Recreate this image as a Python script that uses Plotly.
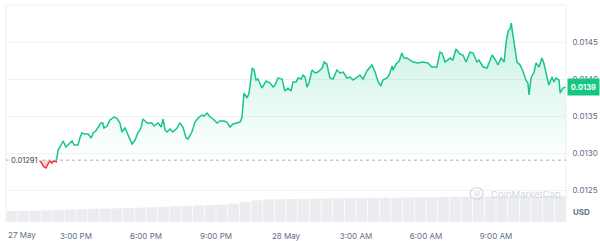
import numpy as np
import pandas as pd
import plotly.graph_objects as go

# ---------------- data ----------------
times = [
    "2024-05-27 13:22", "2024-05-27 13:30", "2024-05-27 13:38", "2024-05-27 13:43", "2024-05-27 13:48",
    "2024-05-27 13:53", "2024-05-27 13:58", "2024-05-27 14:03", "2024-05-27 14:09", "2024-05-27 14:14",
    "2024-05-27 14:19", "2024-05-27 14:27", "2024-05-27 14:34", "2024-05-27 14:39", "2024-05-27 14:50",
    "2024-05-27 14:55", "2024-05-27 15:05", "2024-05-27 15:10", "2024-05-27 15:15", "2024-05-27 15:23",
    "2024-05-27 15:31", "2024-05-27 15:39", "2024-05-27 15:44", "2024-05-27 15:51", "2024-05-27 15:59",
    "2024-05-27 16:04", "2024-05-27 16:09", "2024-05-27 16:12", "2024-05-27 16:20", "2024-05-27 16:27",
    "2024-05-27 16:38", "2024-05-27 16:45", "2024-05-27 16:53", "2024-05-27 16:58", "2024-05-27 17:06",
    "2024-05-27 17:14", "2024-05-27 17:24", "2024-05-27 17:32", "2024-05-27 17:39", "2024-05-27 17:47",
    "2024-05-27 17:52", "2024-05-27 18:03", "2024-05-27 18:15", "2024-05-27 18:21", "2024-05-27 18:31",
    "2024-05-27 18:39", "2024-05-27 18:44", "2024-05-27 18:49", "2024-05-27 18:54", "2024-05-27 19:02",
    "2024-05-27 19:09", "2024-05-27 19:20", "2024-05-27 19:27", "2024-05-27 19:35", "2024-05-27 19:43",
    "2024-05-27 19:48", "2024-05-27 19:58", "2024-05-27 20:06", "2024-05-27 20:14", "2024-05-27 20:24",
    "2024-05-27 20:29", "2024-05-27 20:37", "2024-05-27 20:45", "2024-05-27 20:52", "2024-05-27 21:03",
    "2024-05-27 21:10", "2024-05-27 21:21", "2024-05-27 21:28", "2024-05-27 21:36", "2024-05-27 21:44",
    "2024-05-27 21:54", "2024-05-27 22:02", "2024-05-27 22:07", "2024-05-27 22:12", "2024-05-27 22:20",
    "2024-05-27 22:25", "2024-05-27 22:33", "2024-05-27 22:38", "2024-05-27 22:43", "2024-05-27 22:48",
    "2024-05-27 22:58", "2024-05-27 23:09", "2024-05-27 23:19", "2024-05-27 23:27", "2024-05-27 23:32",
    "2024-05-27 23:39", "2024-05-27 23:50", "2024-05-27 23:57",
    "2024-05-28 00:05", "2024-05-28 00:13", "2024-05-28 00:18", "2024-05-28 00:26", "2024-05-28 00:31",
    "2024-05-28 00:39", "2024-05-28 00:44", "2024-05-28 00:49", "2024-05-28 00:54", "2024-05-28 00:59",
    "2024-05-28 01:07", "2024-05-28 01:15", "2024-05-28 01:22", "2024-05-28 01:33", "2024-05-28 01:38",
    "2024-05-28 01:45", "2024-05-28 01:53", "2024-05-28 02:01", "2024-05-28 02:11", "2024-05-28 02:19",
    "2024-05-28 02:27", "2024-05-28 02:37", "2024-05-28 02:45", "2024-05-28 02:52", "2024-05-28 03:03",
    "2024-05-28 03:10", "2024-05-28 03:18", "2024-05-28 03:28", "2024-05-28 03:41", "2024-05-28 03:49",
    "2024-05-28 03:57", "2024-05-28 04:04", "2024-05-28 04:09", "2024-05-28 04:20", "2024-05-28 04:25",
    "2024-05-28 04:33", "2024-05-28 04:35", "2024-05-28 04:43", "2024-05-28 04:51", "2024-05-28 04:58",
    "2024-05-28 05:03", "2024-05-28 05:11", "2024-05-28 05:19", "2024-05-28 05:27", "2024-05-28 05:39",
    "2024-05-28 05:52", "2024-05-28 06:05", "2024-05-28 06:15", "2024-05-28 06:28", "2024-05-28 06:36",
    "2024-05-28 06:41", "2024-05-28 06:49", "2024-05-28 07:02", "2024-05-28 07:09", "2024-05-28 07:17",
    "2024-05-28 07:27", "2024-05-28 07:35", "2024-05-28 07:43", "2024-05-28 07:53", "2024-05-28 08:01",
    "2024-05-28 08:11", "2024-05-28 08:16", "2024-05-28 08:27", "2024-05-28 08:37", "2024-05-28 08:50",
    "2024-05-28 08:57", "2024-05-28 09:05", "2024-05-28 09:13", "2024-05-28 09:21", "2024-05-28 09:26",
    "2024-05-28 09:31", "2024-05-28 09:36", "2024-05-28 09:39", "2024-05-28 09:44", "2024-05-28 09:49",
    "2024-05-28 09:54", "2024-05-28 10:02", "2024-05-28 10:09", "2024-05-28 10:17", "2024-05-28 10:22",
    "2024-05-28 10:25", "2024-05-28 10:30", "2024-05-28 10:38", "2024-05-28 10:43", "2024-05-28 10:51",
    "2024-05-28 10:58", "2024-05-28 11:03", "2024-05-28 11:11", "2024-05-28 11:16", "2024-05-28 11:24",
    "2024-05-28 11:29", "2024-05-28 11:34", "2024-05-28 11:42", "2024-05-28 11:45", "2024-05-28 11:52",
    "2024-05-28 12:00",
]
prices = [
    0.012910, 0.012885, 0.012817, 0.012804, 0.012858,
    0.012900, 0.012871, 0.012900, 0.012885, 0.013047,
    0.013088, 0.013169, 0.013088, 0.013115, 0.013169,
    0.013115, 0.013115, 0.013209, 0.013277, 0.013263,
    0.013263, 0.013209, 0.013277, 0.013304, 0.013371,
    0.013412, 0.013412, 0.013344, 0.013371, 0.013452,
    0.013493, 0.013479, 0.013412, 0.013290, 0.013344,
    0.013250, 0.013128, 0.013182, 0.013277, 0.013344,
    0.013466, 0.013412, 0.013412, 0.013371, 0.013412,
    0.013358, 0.013466, 0.013317, 0.013290, 0.013331,
    0.013290, 0.013344, 0.013412, 0.013358, 0.013209,
    0.013196, 0.013290, 0.013425, 0.013479, 0.013520,
    0.013506, 0.013547, 0.013493, 0.013466, 0.013412,
    0.013439, 0.013439, 0.013425, 0.013358, 0.013398,
    0.013412, 0.013425, 0.013493, 0.013817, 0.013750,
    0.013817, 0.014155, 0.014128, 0.013993, 0.014006,
    0.013885, 0.013979, 0.013952, 0.013898, 0.013925,
    0.014020, 0.014006, 0.013844,
    0.013885, 0.013844, 0.013966, 0.013966, 0.014020,
    0.014006, 0.014060, 0.014033, 0.013898, 0.013952,
    0.014128, 0.014088, 0.014101, 0.014155, 0.014236,
    0.014209, 0.014020, 0.014006, 0.014128, 0.014088,
    0.014101, 0.014020, 0.014033, 0.013993, 0.014033,
    0.014060, 0.014006, 0.014115, 0.014196, 0.014101,
    0.013966, 0.013912, 0.013993, 0.014020, 0.014060,
    0.014182, 0.014128, 0.014209, 0.014250, 0.014358,
    0.014290, 0.014290, 0.014263, 0.014236, 0.014223,
    0.014236, 0.014223, 0.014169, 0.014169, 0.014371,
    0.014358, 0.014236, 0.014290, 0.014263, 0.014412,
    0.014344, 0.014331, 0.014236, 0.014371, 0.014358,
    0.014236, 0.014263, 0.014169, 0.014155, 0.014331,
    0.014277, 0.014196, 0.014290, 0.014236, 0.014506,
    0.014655, 0.014682, 0.014763, 0.014601, 0.014425,
    0.014236, 0.014196, 0.014115, 0.013993, 0.013952,
    0.013790, 0.014020, 0.014101, 0.014223, 0.014169,
    0.014290, 0.014223, 0.014060, 0.013925, 0.014033,
    0.013966, 0.014020, 0.013993, 0.013817, 0.013885,
    0.013898,
]
base_price = 0.01291
base_label = "0.01291"
last_label = "0.0139"

# 24h rolling volume (millions USD), half-hour buckets starting 27 May 12:00
volume = [
    0.51, 0.51, 0.52, 0.53, 0.55, 0.57, 0.59, 0.61, 0.62, 0.63, 0.64, 0.66,
    0.68, 0.70, 0.72, 0.74, 0.76, 0.78, 0.80, 0.84, 0.92, 1.00, 1.04, 1.05,
    1.06, 1.07, 1.07, 1.08, 1.09, 1.10, 1.10, 1.11, 1.12, 1.12, 1.13, 1.14,
    1.14, 1.15, 1.16, 1.16, 1.17, 1.17, 1.18, 1.18, 1.19, 1.19, 1.20, 1.20,
]

x_ticks = ["2024-05-27 15:00", "2024-05-27 18:00", "2024-05-27 21:00", "2024-05-28 00:00",
           "2024-05-28 03:00", "2024-05-28 06:00", "2024-05-28 09:00"]
x_ticktext = ["3:00 PM", "6:00 PM", "9:00 PM", "28 May", "3:00 AM", "6:00 AM", "9:00 AM"]
first_label = "27 May"
y_ticks = [0.0125, 0.0130, 0.0135, 0.0140, 0.0145]
y_ticktext = ["0.0125", "0.0130", "0.0135", "0.0140", "0.0145"]

x_start, x_end = "2024-05-27 12:00", "2024-05-28 12:00"
y_range = [0.012074, 0.015007]

GREEN = "#16c784"
RED = "#ea3943"
GRID = "#f1f2f4"
TXT = "#616e85"
WM = "#d3d8de"
FONT = "Inter"

# ------------- split into above / below base --------------
t = pd.to_datetime(times)
p = np.array(prices, dtype=float)
tt, pp = [t[0]], [p[0]]
for i in range(1, len(p)):
    a, b = p[i - 1] - base_price, p[i] - base_price
    if a * b < 0:
        f = a / (a - b)
        tc = t[i - 1] + (t[i] - t[i - 1]) * f
        tt.append(tc)
        pp.append(base_price)
    tt.append(t[i])
    pp.append(p[i])
pp = np.array(pp)
green_line = [v if v >= base_price - 1e-12 else None for v in pp]
red_line = [v if v <= base_price + 1e-12 else None for v in pp]
green_fill = np.maximum(pp, base_price)
red_fill = np.minimum(pp, base_price)
baseline = [base_price] * len(tt)

vol_t = pd.date_range(x_start, periods=len(volume), freq="30min") + pd.Timedelta(minutes=15)

fig = go.Figure()

fig.add_trace(go.Bar(x=vol_t, y=volume, yaxis="y2", marker=dict(color="#eaecef", line=dict(width=0)),
                     hoverinfo="skip", showlegend=False))

fig.add_trace(go.Scatter(x=tt, y=baseline, mode="lines", line=dict(width=0), hoverinfo="skip",
                         showlegend=False))
fig.add_trace(go.Scatter(x=tt, y=green_fill, mode="lines", line=dict(width=0), fill="tonexty",
                         fillgradient=dict(type="vertical",
                                           colorscale=[[0, "rgba(22,199,132,0.0)"],
                                                       [1, "rgba(22,199,132,0.24)"]]),
                         hoverinfo="skip", showlegend=False))
fig.add_trace(go.Scatter(x=tt, y=baseline, mode="lines", line=dict(width=0), hoverinfo="skip",
                         showlegend=False))
fig.add_trace(go.Scatter(x=tt, y=red_fill, mode="lines", line=dict(width=0), fill="tonexty",
                         fillcolor="rgba(234,57,67,0.22)", hoverinfo="skip", showlegend=False))
fig.add_trace(go.Scatter(x=tt, y=green_line, mode="lines", line=dict(color=GREEN, width=1.5),
                         connectgaps=False, showlegend=False))
fig.add_trace(go.Scatter(x=tt, y=red_line, mode="lines", line=dict(color=RED, width=1.5),
                         connectgaps=False, showlegend=False))

fig.update_layout(
    width=600, height=241,
    margin=dict(l=6, r=34, t=5, b=19, autoexpand=False),
    paper_bgcolor="white", plot_bgcolor="white",
    bargap=0.06,
    font=dict(family=FONT, size=8, color=TXT),
    xaxis=dict(type="date", range=[x_start, x_end], showgrid=False, zeroline=False, showline=False,
               automargin=False,
               tickmode="array", tickvals=x_ticks, ticktext=x_ticktext,
               ticks="outside", ticklen=6, tickcolor="rgba(0,0,0,0)",
               tickfont=dict(family=FONT, size=8, color=TXT)),
    yaxis=dict(range=y_range, side="right", tickmode="array", tickvals=y_ticks, ticktext=y_ticktext,
               automargin=False,
               showgrid=True, gridcolor=GRID, gridwidth=1, zeroline=False, showline=False,
               ticks="outside", ticklen=4, tickcolor="rgba(0,0,0,0)",
               tickfont=dict(family=FONT, size=8, color=TXT)),
    yaxis2=dict(overlaying="y", range=[0, 10], visible=False, automargin=False),
    showlegend=False,
)

# plot-area frame (top, left, right)
for s in [dict(x0=0, x1=1, y0=1, y1=1), dict(x0=0, x1=0, y0=0, y1=1), dict(x0=1, x1=1, y0=0, y1=1)]:
    fig.add_shape(type="line", xref="paper", yref="paper", line=dict(color="#eceef1", width=1), **s)

# dotted base-price line
fig.add_shape(type="line", xref="paper", yref="y", x0=0, x1=1, y0=base_price, y1=base_price,
              line=dict(color="#a6b0c3", width=1, dash="dot"))

# base price label
fig.add_annotation(x=0, xref="paper", y=base_price, yref="y", text=base_label, showarrow=False,
                   xanchor="left", yanchor="middle", xshift=3, bgcolor="white", borderpad=1,
                   font=dict(family=FONT, size=7.5, color="#3a3f4b"))

# first x label
fig.add_annotation(x=x_start, xref="x", y=0, yref="paper", text=first_label, showarrow=False,
                   xanchor="left", yanchor="top", yshift=-6,
                   font=dict(family=FONT, size=8, color=TXT))

# last price badge
fig.add_annotation(x=1, xref="paper", y=prices[-1], yref="y", text="<b>" + last_label + "</b>",
                   showarrow=False, xanchor="left", yanchor="middle", xshift=1, bgcolor=GREEN,
                   borderpad=2, width=27, height=12, font=dict(family=FONT, size=7.5, color="white"))

# currency label
fig.add_annotation(x=1, xref="paper", y=0.046, yref="paper", text="<b>USD</b>", showarrow=False,
                   xanchor="left", yanchor="middle", xshift=5,
                   font=dict(family=FONT, size=8, color=TXT))

# watermark
fig.add_shape(type="circle", xref="paper", yref="paper", x0=0.829, x1=0.852, y0=0.104, y1=0.159,
              line=dict(color=WM, width=1.2))
fig.add_annotation(x=0.8405, xref="paper", y=0.131, yref="paper", text="M", showarrow=False,
                   xanchor="center", yanchor="middle", font=dict(family=FONT, size=6.5, color=WM))
fig.add_annotation(x=0.862, xref="paper", y=0.129, yref="paper", text="CoinMarketCap", showarrow=False,
                   xanchor="left", yanchor="middle", font=dict(family=FONT, size=9.5, color=WM))

fig.write_html("out.html")
